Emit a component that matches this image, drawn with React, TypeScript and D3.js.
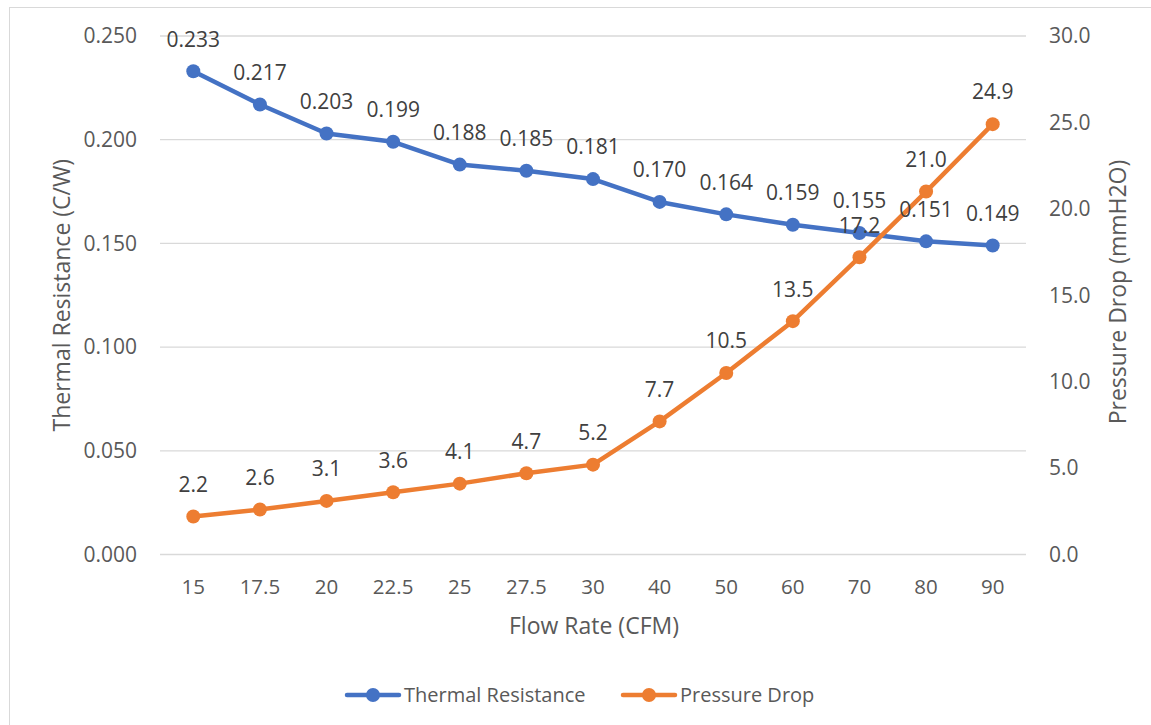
import React, { useEffect, useRef } from 'react';
import * as d3 from 'd3';

const flowRates = ['15', '17.5', '20', '22.5', '25', '27.5', '30', '40', '50', '60', '70', '80', '90'];
const thermalResistance = [0.233, 0.217, 0.203, 0.199, 0.188, 0.185, 0.181, 0.170, 0.164, 0.159, 0.155, 0.151, 0.149];
const pressureDrop = [2.2, 2.6, 3.1, 3.6, 4.1, 4.7, 5.2, 7.7, 10.5, 13.5, 17.2, 21.0, 24.9];
const leftTicks = [0, 0.05, 0.1, 0.15, 0.2, 0.25];
const rightTicks = [0, 5, 10, 15, 20, 25, 30];

const BLUE = '#4472C4';
const ORANGE = '#ED7D31';
const FONT = '"Open Sans", sans-serif';

const App: React.FC = () => {
  const ref = useRef<SVGSVGElement | null>(null);

  useEffect(() => {
    const svg = d3.select(ref.current);
    svg.selectAll('*').remove();

    const left = 160, right = 1026, top = 36, bottom = 554.5;

    const x = d3.scaleBand().domain(flowRates).range([left, right]);
    const yL = d3.scaleLinear().domain([0, 0.25]).range([bottom, top]);
    const yR = d3.scaleLinear().domain([0, 30]).range([bottom, top]);
    const cx = (i: number) => (x(flowRates[i]) as number) + x.bandwidth() / 2;

    // chart border
    svg.append('rect')
      .attr('x', 9.5).attr('y', 7.5).attr('width', 1200).attr('height', 800)
      .attr('fill', 'none').attr('stroke', '#d9d9d9').attr('stroke-width', 1);

    // gridlines
    svg.append('g').selectAll('line').data(leftTicks).join('line')
      .attr('x1', left).attr('x2', right)
      .attr('y1', d => yL(d)).attr('y2', d => yL(d))
      .attr('stroke', '#d9d9d9').attr('stroke-width', 1.3);

    // left axis labels
    svg.append('g').selectAll('text').data(leftTicks).join('text')
      .attr('x', 137).attr('y', d => yL(d)).attr('dy', '0.35em')
      .attr('text-anchor', 'end')
      .style('font', `21px ${FONT}`).attr('fill', '#595959')
      .text(d => d3.format('.3f')(d));

    // right axis labels
    svg.append('g').selectAll('text').data(rightTicks).join('text')
      .attr('x', 1049).attr('y', d => yR(d)).attr('dy', '0.35em')
      .attr('text-anchor', 'start')
      .style('font', `21px ${FONT}`).attr('fill', '#595959')
      .text(d => d3.format('.1f')(d));

    // x axis labels
    svg.append('g').selectAll('text').data(flowRates).join('text')
      .attr('x', (d, i) => cx(i)).attr('y', 587).attr('dy', '0.35em')
      .attr('text-anchor', 'middle')
      .style('font', `20.5px ${FONT}`).attr('fill', '#595959')
      .text(d => d);

    // axis titles
    svg.append('text')
      .attr('x', 594).attr('y', 626).attr('dy', '0.35em')
      .attr('text-anchor', 'middle')
      .style('font', `23px ${FONT}`).attr('fill', '#595959')
      .text('Flow Rate (CFM)');
    svg.append('text')
      .attr('transform', `translate(62,${(top + bottom) / 2}) rotate(-90)`)
      .attr('dy', '0.35em').attr('text-anchor', 'middle')
      .style('font', `23px ${FONT}`).attr('fill', '#595959')
      .text('Thermal Resistance (C/W)');
    svg.append('text')
      .attr('transform', `translate(1118,292) rotate(-90)`)
      .attr('dy', '0.35em').attr('text-anchor', 'middle')
      .style('font', `23px ${FONT}`).attr('fill', '#595959')
      .text('Pressure Drop (mmH2O)');

    const series = [
      { values: thermalResistance, y: yL, color: BLUE, fmt: d3.format('.3f') },
      { values: pressureDrop, y: yR, color: ORANGE, fmt: d3.format('.1f') },
    ];

    series.forEach(s => {
      const line = d3.line<number>().x((d, i) => cx(i)).y(d => s.y(d));
      svg.append('path').datum(s.values)
        .attr('d', line)
        .attr('fill', 'none').attr('stroke', s.color)
        .attr('stroke-width', 4.5).attr('stroke-linejoin', 'round').attr('stroke-linecap', 'round');
      svg.append('g').selectAll('circle').data(s.values).join('circle')
        .attr('cx', (d, i) => cx(i)).attr('cy', d => s.y(d)).attr('r', 7)
        .attr('fill', s.color);
    });

    // data labels on top
    series.forEach(s => {
      svg.append('g').selectAll('text').data(s.values).join('text')
        .attr('x', (d, i) => cx(i)).attr('y', d => s.y(d) - 32).attr('dy', '0.35em')
        .attr('text-anchor', 'middle')
        .style('font', `21px ${FONT}`).attr('fill', '#404040')
        .text(d => s.fmt(d));
    });

    // legend
    const legend = [
      { name: 'Thermal Resistance', color: BLUE, x0: 347 },
      { name: 'Pressure Drop', color: ORANGE, x0: 623 },
    ];
    const ly = 695;
    legend.forEach(l => {
      svg.append('line')
        .attr('x1', l.x0).attr('x2', l.x0 + 52).attr('y1', ly).attr('y2', ly)
        .attr('stroke', l.color).attr('stroke-width', 4.5).attr('stroke-linecap', 'round');
      svg.append('circle').attr('cx', l.x0 + 26).attr('cy', ly).attr('r', 7).attr('fill', l.color);
      svg.append('text')
        .attr('x', l.x0 + 57).attr('y', ly).attr('dy', '0.35em')
        .style('font', `20px ${FONT}`).attr('fill', '#595959')
        .text(l.name);
    });
  }, []);

  return (
    <svg
      ref={ref}
      width={1151}
      height={725}
      style={{ position: 'absolute', left: 0, top: 0, background: '#fff' }}
    />
  );
};

export default App;
